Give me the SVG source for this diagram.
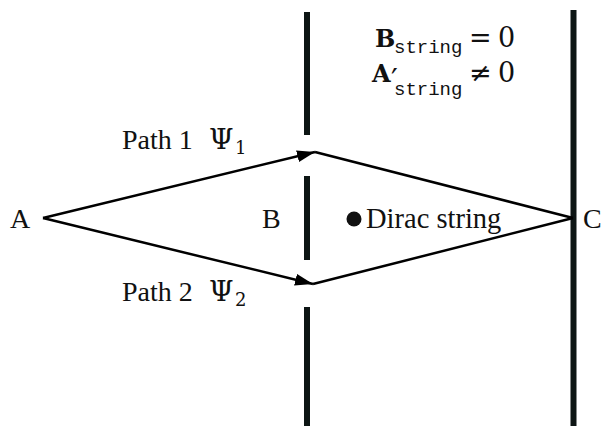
<svg xmlns="http://www.w3.org/2000/svg" width="609" height="426" viewBox="0 0 609 426">
<style>
.t{font-family:"Liberation Serif","Times New Roman",serif;font-size:28px;fill:#111}
.m{font-family:"DejaVu Serif",serif;font-size:27px;fill:#111}
.psi{font-family:"DejaVu Serif",serif;font-size:28px;fill:#111}
.b{font-family:"DejaVu Serif",serif;font-size:24px;font-weight:bold;fill:#111}
.s{font-family:"Liberation Mono","Courier New",monospace;font-size:19px;fill:#111}
.sub{font-family:"DejaVu Serif",serif;font-size:18px;fill:#111}
.wall{fill:#0d1514}
.ln{stroke:#000;stroke-width:2.5;fill:none}
</style>
<defs>
<marker id="ah" markerWidth="20" markerHeight="12" refX="18" refY="6" orient="auto" markerUnits="userSpaceOnUse">
<path d="M0,0 L18,6 L0,12 Z" fill="#000"/>
</marker>
</defs>
<g id="walls">
<rect class="wall" x="304" y="12" width="6" height="123"/>
<rect class="wall" x="304" y="176" width="6" height="84"/>
<rect class="wall" x="304" y="307" width="6" height="119"/>
<rect class="wall" x="570.5" y="10" width="6" height="416"/>
</g>
<g id="connectors">
<line class="ln" x1="43" y1="218" x2="315" y2="152" marker-end="url(#ah)"/>
<line class="ln" x1="315" y1="152" x2="573" y2="218"/>
<line class="ln" x1="43" y1="218" x2="313" y2="284" marker-end="url(#ah)"/>
<line class="ln" x1="313" y1="284" x2="573" y2="218"/>
</g>
<g id="nodeA"><text class="t" x="10" y="228">A</text></g>
<g id="nodeB"><text class="t" x="262" y="228">B</text></g>
<g id="nodeC"><text class="t" x="583" y="228">C</text></g>
<g id="dirac">
<circle cx="354" cy="219" r="7.5" fill="#111"/>
<text class="t" x="366" y="228" style="font-size:28.5px">Dirac string</text>
</g>
<g id="path1">
<text class="t" x="122" y="149">Path 1</text>
<text class="psi" x="209" y="149">Ψ</text>
<text class="sub" x="235" y="154">1</text>
</g>
<g id="path2">
<text class="t" x="122" y="301">Path 2</text>
<text class="psi" x="209" y="301">Ψ</text>
<text class="sub" x="235" y="306">2</text>
</g>
<g id="eq">
<text class="b" x="375" y="47">B</text>
<text class="s" x="394" y="53">string</text>
<text class="m" x="469" y="47">=</text>
<text class="m" x="498" y="47">0</text>
<text class="b" x="372" y="82">A</text>
<text class="m" x="391" y="90" style="font-size:30px">′</text>
<text class="s" x="394" y="95">string</text>
<text class="m" x="469" y="82">≠</text>
<text class="m" x="498" y="82">0</text>
</g>
</svg>
